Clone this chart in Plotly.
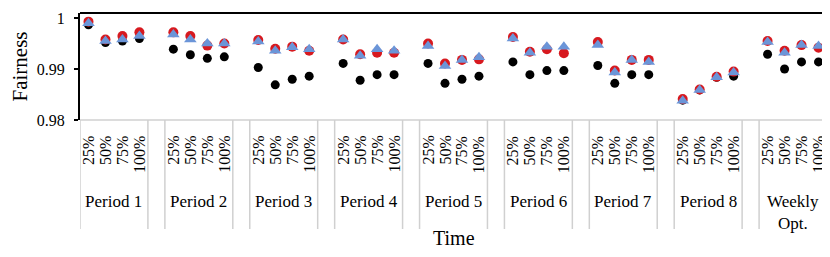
import plotly.graph_objects as go

groups = ["Period 1", "Period 2", "Period 3", "Period 4", "Period 5",
          "Period 6", "Period 7", "Period 8", "Weekly<br>Opt."]
levels = ["25%", "50%", "75%", "100%"]

black_vals = [0.9987, 0.9952, 0.9955, 0.9960,
              0.9939, 0.9928, 0.9921, 0.9924,
              0.9903, 0.9869, 0.9880, 0.9886,
              0.9911, 0.9878, 0.9889, 0.9889,
              0.9911, 0.9872, 0.9880, 0.9886,
              0.9914, 0.9889, 0.9897, 0.9897,
              0.9907, 0.9872, 0.9889, 0.9889,
              0.9839, 0.9859, 0.9884, 0.9886,
              0.9929, 0.9900, 0.9914, 0.9914]
red_vals = [0.9993, 0.9958, 0.9965, 0.9972,
            0.9972, 0.9965, 0.9946, 0.9950,
            0.9957, 0.9940, 0.9944, 0.9936,
            0.9958, 0.9929, 0.9932, 0.9932,
            0.9950, 0.9911, 0.9918, 0.9919,
            0.9963, 0.9934, 0.9939, 0.9931,
            0.9953, 0.9897, 0.9918, 0.9918,
            0.9841, 0.9860, 0.9885, 0.9895,
            0.9955, 0.9936, 0.9947, 0.9942]
blue_vals = [0.9990, 0.9955, 0.9958, 0.9965,
             0.9968, 0.9958, 0.9950, 0.9950,
             0.9954, 0.9936, 0.9943, 0.9939,
             0.9958, 0.9926, 0.9939, 0.9936,
             0.9945, 0.9906, 0.9918, 0.9923,
             0.9960, 0.9932, 0.9944, 0.9944,
             0.9947, 0.9893, 0.9918, 0.9914,
             0.9838, 0.9859, 0.9884, 0.9893,
             0.9953, 0.9932, 0.9947, 0.9945]

# category positions: 4 slots per group + one blank slot between groups
xpos = [g * 5 + i for g in range(len(groups)) for i in range(len(levels))]

FONT = "Liberation Serif, Times New Roman, serif"

fig = go.Figure()
fig.add_trace(go.Scatter(x=xpos, y=black_vals, mode="markers",
                         marker=dict(symbol="circle", size=9, color="#000000"),
                         name="A", cliponaxis=False))
fig.add_trace(go.Scatter(x=xpos, y=red_vals, mode="markers",
                         marker=dict(symbol="circle", size=10, color="#d7191f"),
                         name="B", cliponaxis=False))
fig.add_trace(go.Scatter(x=xpos, y=blue_vals, mode="markers",
                         marker=dict(symbol="triangle-up", size=11, color="#6b95d8"),
                         name="C", cliponaxis=False))

# plot area: 107 px high; helper converts offsets below plot bottom (in px) to paper y
H = 107.0
def py(pixel):
    return (120 - pixel) / H

shapes = []
grey = "#d0d0d0"
shapes.append(dict(type="line", xref="paper", yref="paper", x0=0, x1=1, y0=0, y1=0,
                   line=dict(color=grey, width=1.5)))
for g in range(len(groups)):
    for xb in (g * 5 - 0.5, g * 5 + 3.5):
        shapes.append(dict(type="line", xref="x", yref="paper", x0=xb, x1=xb,
                           y0=0, y1=py(229), line=dict(color=grey, width=1.5)))
shapes.append(dict(type="line", xref="paper", yref="paper", x0=0, x1=1, y0=1, y1=1,
                   line=dict(color="#000000", width=2)))
shapes.append(dict(type="line", xref="paper", yref="paper", x0=1, x1=1, y0=0, y1=1,
                   line=dict(color="#000000", width=1.5)))

annotations = []
for g, gname in enumerate(groups):
    for i, lv in enumerate(levels):
        annotations.append(dict(x=g * 5 + i, y=py(134), xref="x", yref="paper",
                                text=lv, textangle=-90, showarrow=False,
                                xanchor="center", yanchor="top",
                                font=dict(family=FONT, size=16, color="#000000")))
    annotations.append(dict(x=g * 5 + 1.5, y=py(190), xref="x", yref="paper",
                            text=gname, showarrow=False, xanchor="center", yanchor="top",
                            font=dict(family=FONT, size=17, color="#000000")))
annotations.append(dict(x=0.5, y=py(238), xref="paper", yref="paper", text="Time",
                        showarrow=False, xanchor="center", yanchor="middle",
                        font=dict(family=FONT, size=20, color="#000000")))

fig.update_layout(
    width=822, height=249,
    margin=dict(l=72, r=3, t=5, b=137, autoexpand=False),
    paper_bgcolor="white", plot_bgcolor="white",
    showlegend=False,
    font=dict(family=FONT, size=16, color="#000000"),
    xaxis=dict(range=[-0.5, 43.5], showticklabels=False, showgrid=False,
               zeroline=False, showline=False, ticks=""),
    yaxis=dict(range=[0.98, 1.001], tickvals=[0.98, 0.99, 1.0],
               ticktext=["0.98", "0.99", "1"], showgrid=False, zeroline=False,
               showline=True, linecolor="#000000", linewidth=2,
               ticks="outside", ticklen=4, tickcolor="#000000", tickwidth=1.5,
               ticklabelstandoff=6,
               tickfont=dict(family=FONT, size=16),
               title=dict(text="Fairness", font=dict(family=FONT, size=21), standoff=12)),
    shapes=shapes, annotations=annotations,
)

fig.write_html("out.html")
